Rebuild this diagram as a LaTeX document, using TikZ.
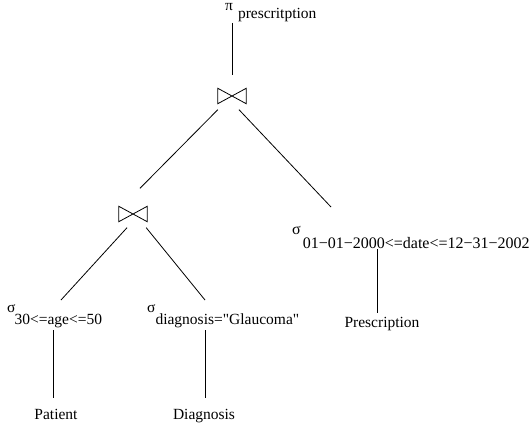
\documentclass[tikz,border=0pt]{standalone}
\usepackage{fontspec}
\setmainfont{Liberation Serif}
\usetikzlibrary{calc}
\begin{document}
\begin{tikzpicture}[x=1pt,y=-1pt,
  every node/.style={font=\fontsize{15.5}{18}\selectfont, inner sep=0pt},
  edge/.style={line width=0.8pt},
  joinbox/.style={minimum width=28pt, minimum height=15pt, inner sep=0pt}]
\useasboundingbox (0,0) rectangle (530,425);
% nodes
\node[anchor=base west] (pi) at (225,11) {π\hspace{5pt}\raisebox{-8pt}{prescritption}};
\node[joinbox] (j1) at (232,96) {};
\node[joinbox] (j2) at (133,214) {};
\node[anchor=base west] (s1) at (7,312) {σ\hspace{-1pt}\raisebox{-12pt}{30<=age<=50}};
\node[anchor=base west] (s2) at (147,312) {σ\raisebox{-12pt}{diagnosis=\textquotedbl Glaucoma\textquotedbl}};
\node[anchor=base west, font=\fontsize{16}{18}\selectfont] (s3) at (292,234) {σ\hspace{2pt}\raisebox{-14pt}{01−01−2000<=date<=12−31−2002}};
\node[anchor=base] (pat) at (56,419) {Patient};
\node[anchor=base] (diag) at (204,419) {Diagnosis};
\node[anchor=base] (presc) at (382,327) {Prescription};
% bowties
\foreach \j in {j1,j2}
  \draw[edge] (\j.north west) -- (\j.south east) -- (\j.north east) -- (\j.south west) -- cycle;
% connectors
\draw[edge] ([xshift=7pt,yshift=-12pt]pi.base west) -- ([yshift=13pt]j1.north);
\draw[edge] ([yshift=-6pt]j1.south west) -- ([xshift=7pt,yshift=18pt]j2.north);
\draw[edge] ([xshift=7pt,yshift=-6pt]j1.south) -- ([xshift=39pt,yshift=27pt]s3.base west);
\draw[edge] ([xshift=-6pt,yshift=-6pt]j2.south) -- ([xshift=54pt,yshift=12pt]s1.base west);
\draw[edge] ([xshift=-1pt,yshift=-6pt]j2.south east) -- ([xshift=58pt,yshift=12pt]s2.base west);
\draw[edge] ([xshift=46pt,yshift=-18pt]s1.base west) -- ([xshift=-3pt,yshift=21pt]pat.base);
\draw[edge] ([xshift=58pt,yshift=-18pt]s2.base west) -- ([xshift=1pt,yshift=21pt]diag.base);
\draw[edge] ([xshift=85pt,yshift=-15pt]s3.base west) -- ([xshift=-5pt,yshift=14pt]presc.base);
\end{tikzpicture}
\end{document}
